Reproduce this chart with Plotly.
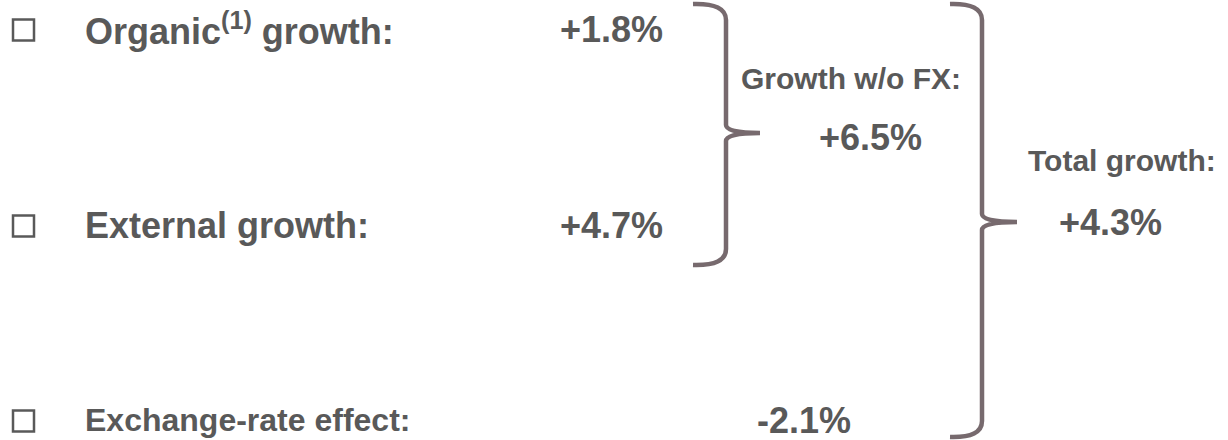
import plotly.graph_objects as go

# ---- data ----
row_labels = ["Organic<sup>(1)</sup> growth:", "External growth:", "Exchange-rate effect:"]
row_values = [1.8, 4.7, -2.1]
group_labels = ["Growth w/o FX:", "Total growth:"]
group_values = [6.5, 4.3]

# ---- layout constants (pixel space) ----
W, H = 1228, 440
TEXT = "#595959"
BRACE = "#776a6e"
FONT = "Liberation Sans, Arial, sans-serif"

row_y = [29, 225, 420]
row_sizes = [36, 36, 32]
value_x = [558, 558, 755]


def fmt(v):
    return f"{v:+.1f}%"


fig = go.Figure()

# bullet boxes
fig.add_trace(go.Scatter(
    x=[23.5] * len(row_labels), y=[y + 1 for y in row_y], mode="markers",
    marker=dict(symbol="square-open", size=21, color=TEXT, line=dict(width=2.5, color=TEXT)),
    hoverinfo="skip", showlegend=False,
))

ann = []
for i, lab in enumerate(row_labels):
    ann.append(dict(x=83, y=row_y[i], text=f"<b>{lab}</b>", xanchor="left", yanchor="middle",
                    font=dict(family=FONT, size=row_sizes[i], color=TEXT)))
    ann.append(dict(x=value_x[i], y=row_y[i], text=f"<b>{fmt(row_values[i])}</b>",
                    xanchor="left", yanchor="middle",
                    font=dict(family=FONT, size=36, color=TEXT)))

# group labels
grp_label_pos = [(851, 78), (1122, 160)]
grp_value_pos = [(870, 137), (1110, 222)]
for i in range(2):
    ann.append(dict(x=grp_label_pos[i][0], y=grp_label_pos[i][1], text=f"<b>{group_labels[i]}</b>",
                    xanchor="center", yanchor="middle",
                    font=dict(family=FONT, size=30, color=TEXT)))
    ann.append(dict(x=grp_value_pos[i][0], y=grp_value_pos[i][1], text=f"<b>{fmt(group_values[i])}</b>",
                    xanchor="center", yanchor="middle",
                    font=dict(family=FONT, size=36, color=TEXT)))

for a in ann:
    a.update(xref="x", yref="y", showarrow=False)


def brace(x0, xv, xt, ytop, ymid, ybot):
    r = 16
    return (f"M {x0},{ytop} Q {xv},{ytop - 1} {xv},{ytop + r} "
            f"L {xv},{ymid - 8} Q {xv},{ymid} {xt},{ymid} "
            f"Q {xv},{ymid} {xv},{ymid + 8} "
            f"L {xv},{ybot - r} Q {xv},{ybot + 1} {x0},{ybot}")


shapes = [
    dict(type="path", path=brace(693, 726, 760, 4, 133, 265), xref="x", yref="y",
         line=dict(color=BRACE, width=4.5)),
    dict(type="path", path=brace(950, 982, 1017, 4, 222, 437), xref="x", yref="y",
         line=dict(color=BRACE, width=4.5)),
]

fig.update_layout(
    width=W, height=H, margin=dict(l=0, r=0, t=0, b=0),
    paper_bgcolor="white", plot_bgcolor="white",
    xaxis=dict(range=[0, W], visible=False, fixedrange=True),
    yaxis=dict(range=[H, 0], visible=False, fixedrange=True),
    annotations=ann, shapes=shapes, showlegend=False,
)
fig.write_html("out.html")
